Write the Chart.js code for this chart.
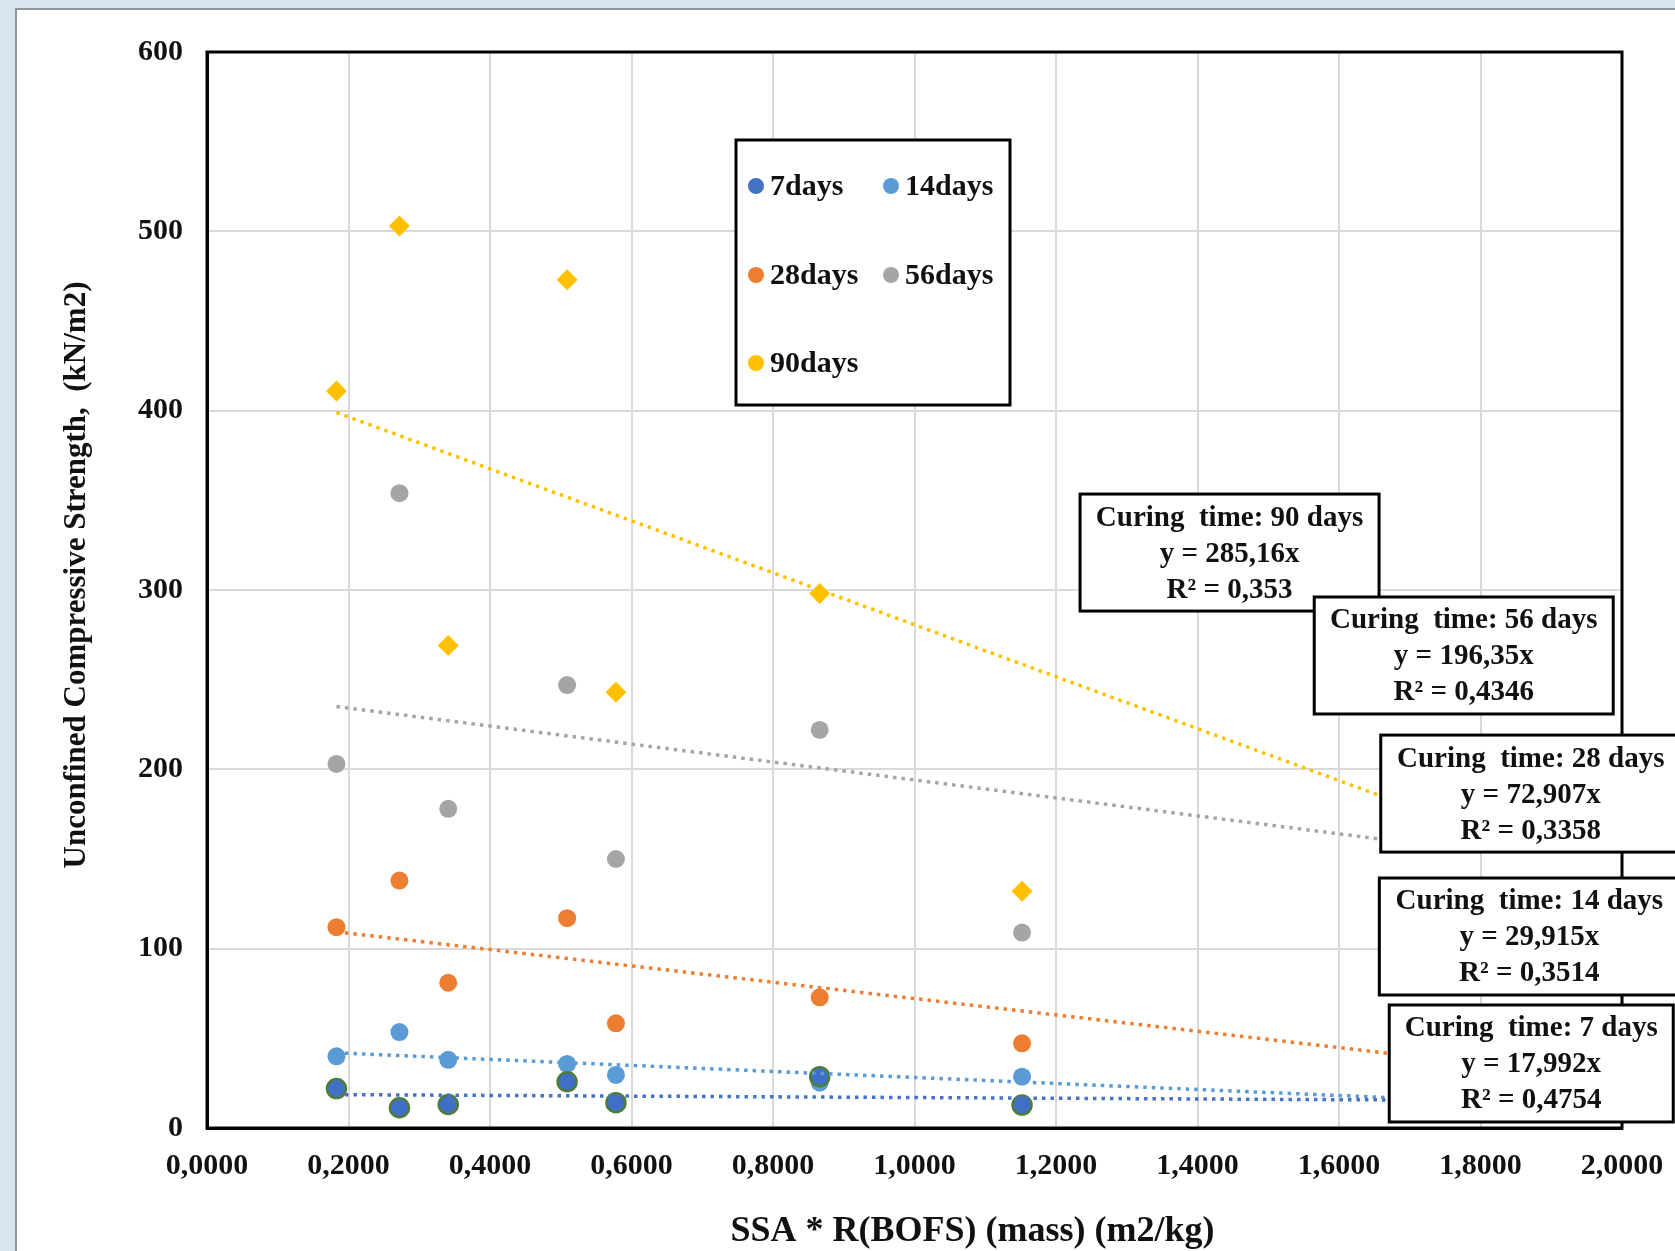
<!DOCTYPE html>
<html>
<head>
<meta charset="utf-8">
<script src="https://cdn.jsdelivr.net/npm/chart.js@4/dist/chart.umd.min.js"></script>
<style>
  html, body { margin: 0; padding: 0; }
  body { width: 1675px; height: 1251px; background: #d8e5ee; position: relative; overflow: hidden; }
  #panel { position: absolute; left: 15px; top: 8px; right: 0; bottom: 0; background: #fff;
           border-left: 2px solid #8d959b; border-top: 2px solid #8d959b; }
  #chart { position: absolute; left: 0; top: 0; }
</style>
</head>
<body>
<div id="panel"></div>
<canvas id="chart" width="1675" height="1251"></canvas>
<script>
// SSA * R(BOFS) values (m2/kg)
const ssaValues = [0.183, 0.272, 0.341, 0.509, 0.578, 0.866, 1.152];

// UCS per curing time (kN/m2)
const ucs7days = [22, 11.3, 13.1, 25.8, 14.1, 28.6, 12.8];
const ucs14days = [40, 53.5, 38, 35.7, 29.6, 25.3, 28.6];
const ucs28days = [112, 138, 81, 117, 58.4, 72.9, 47.2];
const ucs56days = [203, 354, 178, 247, 150, 222, 109];
const ucs90days = [411, 503, 269, 473, 243, 298, 132];

// trendline end points as drawn (start x, end x)
const trendX = [0.183, 1.75];
const trend7days = [18.6, 15.5];
const trend14days = [41.9, 15.6];
const trend28days = [109.4, 38];
const trend56days = [235, 156.5];
const trend90days = [399, 172];

const yTicks = [0, 100, 200, 300, 400, 500, 600];

const FONT = "'Liberation Serif', 'Times New Roman', serif";

// equation labels, anchored by their top-left corner in axis units
const fitNotes = [
  { lines: ["Curing  time: 90 days", "y = 285,16x", "R\u00b2 = 0,353"], x: 1.234, y: 353.5, w: 299 },
  { lines: ["Curing  time: 56 days", "y = 196,35x", "R\u00b2 = 0,4346"], x: 1.565, y: 296.1, w: 299 },
  { lines: ["Curing  time: 28 days", "y = 72,907x", "R\u00b2 = 0,3358"], x: 1.659, y: 219.1, w: 300 },
  { lines: ["Curing  time: 14 days", "y = 29,915x", "R\u00b2 = 0,3514"], x: 1.657, y: 139.4, w: 300 },
  { lines: ["Curing  time: 7 days", "y = 17,992x", "R\u00b2 = 0,4754"], x: 1.671, y: 68.6, w: 284 },
];

const legendItems = [
  { label: "7days", color: "#4472C4" },
  { label: "14days", color: "#5B9BD5" },
  { label: "28days", color: "#ED7D31" },
  { label: "56days", color: "#A5A5A5" },
  { label: "90days", color: "#FFC000" },
];

function points(xs, ys) {
  return xs.map((x, i) => ({ x: x, y: ys[i] }));
}

function trend(ys, color) {
  return {
    type: "line",
    data: points(trendX, ys),
    borderColor: color,
    borderWidth: 3.5,
    borderDash: [3.5, 5],
    pointRadius: 0,
    fill: false,
    order: 0,
  };
}

function markers(label, ys, color, style, extra) {
  return Object.assign({
    label: label,
    data: points(ssaValues, ys),
    backgroundColor: color,
    borderColor: color,
    borderWidth: 0,
    pointStyle: style,
    pointRadius: 9,
    order: 1,
  }, extra || {});
}

const notesPlugin = {
  id: "notes",
  afterDatasetsDraw(chart) {
    const { ctx, chartArea: a, scales } = chart;
    const xs = scales.x, ys = scales.y;
    ctx.save();
    // plot frame
    ctx.strokeStyle = "#000";
    ctx.lineWidth = 3;
    ctx.strokeRect(a.left, a.top, a.right - a.left, a.bottom - a.top);

    // legend box
    ctx.fillStyle = "#fff";
    ctx.fillRect(736, 140, 274, 265);
    ctx.strokeRect(736, 140, 274, 265);
    ctx.font = "bold 30px " + FONT;
    ctx.textBaseline = "middle";
    ctx.textAlign = "left";
    const cols = [756, 891], rows = [186, 275, 363];
    legendItems.forEach((item, i) => {
      const cx = cols[i % 2], cy = rows[Math.floor(i / 2)];
      ctx.fillStyle = item.color;
      ctx.beginPath();
      ctx.arc(cx, cy, 8, 0, Math.PI * 2);
      ctx.fill();
      ctx.fillStyle = "#111";
      ctx.fillText(item.label, cx + 14, cy + 1);
    });

    // trendline equation boxes
    ctx.font = "bold 29px " + FONT;
    ctx.textAlign = "center";
    fitNotes.forEach((n) => {
      const left = xs.getPixelForValue(n.x);
      const top = ys.getPixelForValue(n.y);
      ctx.fillStyle = "#fff";
      ctx.fillRect(left, top, n.w, 117);
      ctx.strokeStyle = "#000";
      ctx.lineWidth = 3;
      ctx.strokeRect(left, top, n.w, 117);
      ctx.fillStyle = "#111";
      n.lines.forEach((t, i) => {
        ctx.fillText(t, left + n.w / 2, top + 24 + i * 36);
      });
    });
    ctx.restore();
  },
  afterDraw(chart) {
    const { ctx, chartArea: a } = chart;
    ctx.save();
    ctx.fillStyle = "#111";
    ctx.textAlign = "center";
    ctx.textBaseline = "middle";
    ctx.font = "bold 36px " + FONT;
    ctx.fillText("SSA * R(BOFS) (mass) (m2/kg)", (a.left + a.right) / 2 + 58, 1232);
    ctx.translate(77, 575);
    ctx.rotate(-Math.PI / 2);
    ctx.font = "bold 31px " + FONT;
    ctx.fillText("Unconfined Compressive Strength,  (kN/m2)", 0, 0);
    ctx.restore();
  },
};

new Chart(document.getElementById("chart"), {
  type: "scatter",
  data: {
    datasets: [
      markers("7days", ucs7days, "#3F6FC6", "circle", { borderColor: "#4E7D39", borderWidth: 2.5, pointRadius: 9.5 }),
      markers("14days", ucs14days, "#5B9BD5", "circle"),
      markers("28days", ucs28days, "#ED7D31", "circle"),
      markers("56days", ucs56days, "#A5A5A5", "circle"),
      markers("90days", ucs90days, "#FFC000", "rectRot", { pointRadius: 10.5 }),
      trend(trend7days, "#4472C4"),
      trend(trend14days, "#5B9BD5"),
      trend(trend28days, "#ED7D31"),
      trend(trend56days, "#A5A5A5"),
      trend(trend90days, "#FFC000"),
    ],
  },
  options: {
    responsive: false,
    animation: false,
    layout: { padding: { left: 0, top: 52, right: 53, bottom: 0 } },
    plugins: {
      legend: { display: false },
      tooltip: { enabled: false },
    },
    scales: {
      x: {
        type: "linear",
        min: 0,
        max: 2,
        afterFit: (s) => {
          s.height = 123;
          s.paddingLeft = 0;
          s.paddingRight = 0;
        },
        grid: { color: "#d9d9d9", lineWidth: 2, drawTicks: false },
        border: { color: "#000", width: 3 },
        ticks: {
          stepSize: 0.2,
          padding: 20,
          color: "#111",
          font: { family: FONT, size: 30, weight: "bold" },
          callback: (v) => v.toFixed(4).replace(".", ","),
        },
      },
      y: {
        type: "linear",
        min: yTicks[0],
        max: yTicks[yTicks.length - 1],
        afterFit: (s) => {
          s.width = 207;
          s.paddingTop = 0;
          s.paddingBottom = 0;
        },
        afterBuildTicks: (s) => { s.ticks = yTicks.map((v) => ({ value: v })); },
        grid: { color: "#d9d9d9", lineWidth: 2, drawTicks: false },
        border: { color: "#000", width: 3 },
        ticks: {
          padding: 24,
          color: "#111",
          font: { family: FONT, size: 30, weight: "bold" },
        },
      },
    },
  },
  plugins: [notesPlugin],
});
</script>
</body>
</html>
